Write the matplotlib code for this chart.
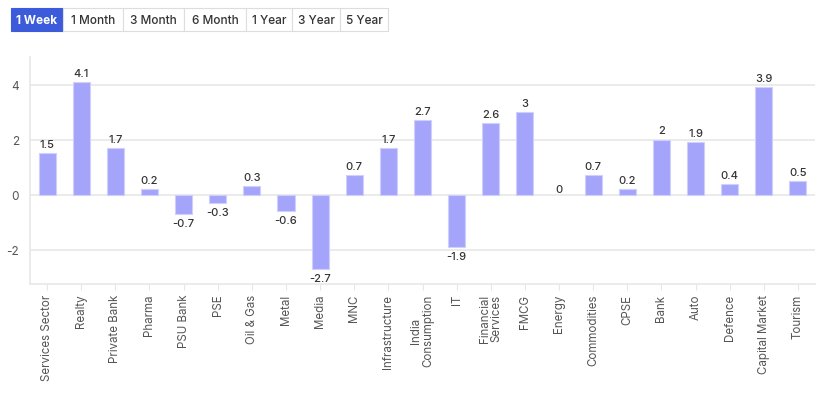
import matplotlib
matplotlib.use("Agg")
import matplotlib.pyplot as plt
from matplotlib.patches import Rectangle

categories = ["Services Sector", "Realty", "Private Bank", "Pharma", "PSU Bank", "PSE",
              "Oil & Gas", "Metal", "Media", "MNC", "Infrastructure", "India\nConsumption",
              "IT", "Financial\nServices", "FMCG", "Energy", "Commodities", "CPSE", "Bank",
              "Auto", "Defence", "Capital Market", "Tourism"]
values = [1.5, 4.1, 1.7, 0.2, -0.7, -0.3, 0.3, -0.6, -2.7, 0.7, 1.7, 2.7,
          -1.9, 2.6, 3, 0, 0.7, 0.2, 2, 1.9, 0.4, 3.9, 0.5]
buttons = ["1 Week", "1 Month", "3 Month", "6 Month", "1 Year", "3 Year", "5 Year"]
button_edges = [11, 63, 123, 184, 246, 292, 340, 388]

plt.rcParams['font.family'] = ['Inter', 'DejaVu Sans']

W, H = 832, 402
fig = plt.figure(figsize=(W / 100, H / 100), dpi=100)
ax = fig.add_axes([30 / W, 1 - 285 / H, 785 / W, 227 / H])

x = list(range(len(categories)))
bars = ax.bar(x, values, width=0.5, color='#a4a4fb', edgecolor='#d0d0fd', linewidth=0.8, zorder=3)
for b, v in zip(bars, values):
    if v == 0:
        b.set_linewidth(0)
for xi, v in zip(x, values):
    if v > 0:
        ax.annotate(f"{v:g}", (xi, v), xytext=(0, 3), textcoords='offset points',
                    ha='center', va='bottom', fontsize=8, color='#333333', fontweight='medium')
    elif v < 0:
        ax.annotate(f"{v:g}", (xi, v), xytext=(0, -3), textcoords='offset points',
                    ha='center', va='top', fontsize=8, color='#333333', fontweight='medium')
    else:
        ax.annotate(f"{v:g}", (xi, v), xytext=(0, 4), textcoords='offset points',
                    ha='center', va='center', fontsize=8, color='#333333', fontweight='medium')

ax.set_xlim(-0.5, len(categories) - 0.5)
ax.set_ylim(-3.24, 5.0)
ax.set_yticks([-2, 0, 2, 4])
ax.set_yticklabels(["-2", "0", "2", "4"])
ax.set_xticks(x)
ax.set_xticklabels(categories, rotation=90, fontsize=8.3, color='#555555', linespacing=1.0)
ax.tick_params(axis='y', length=0, labelsize=8.5, labelcolor='#555555', pad=8)
ax.tick_params(axis='x', length=4, color='#e6e6e6', pad=3)
ax.grid(axis='y', color='#e8e8e8', linewidth=1.2, zorder=0)
for s in ['top', 'right']:
    ax.spines[s].set_visible(False)
for s in ['left', 'bottom']:
    ax.spines[s].set_color('#e8e8e8')
    ax.spines[s].set_linewidth(1.2)

# buttons
y0, y1 = 9, 32
for i, label in enumerate(buttons):
    xa, xb = button_edges[i], button_edges[i + 1]
    active = i == 0
    rect = Rectangle((xa / W, 1 - y1 / H), (xb - xa) / W, (y1 - y0) / H,
                     transform=fig.transFigure,
                     facecolor='#3b5bdb' if active else 'white',
                     edgecolor='#3b5bdb' if active else '#dddddd', linewidth=0.8)
    fig.patches.append(rect)
    fig.text((xa + xb) / 2 / W, 1 - (y0 + y1) / 2 / H, label, ha='center', va='center',
             fontsize=8.5, fontweight='bold' if active else 'medium',
             color='white' if active else '#333333')

fig.savefig("out.png", dpi=100)
